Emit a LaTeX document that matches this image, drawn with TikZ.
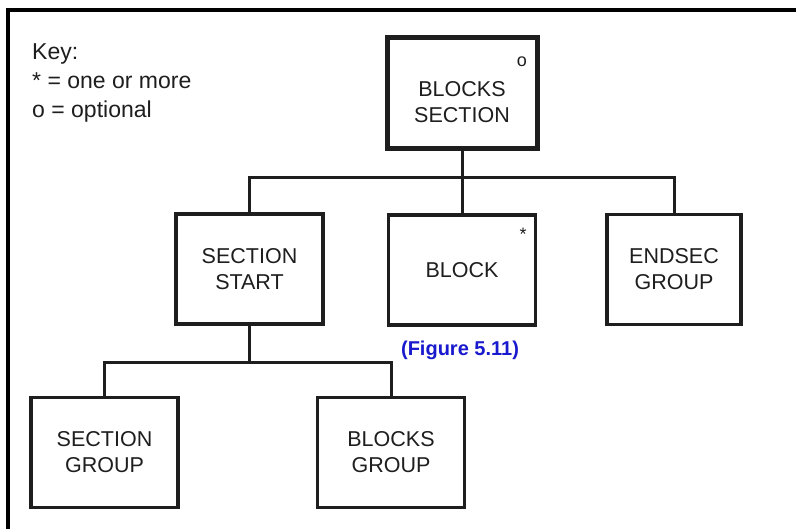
\documentclass[tikz,border=0pt]{standalone}
\usepackage{fontspec}
\setmainfont{Liberation Sans}
\definecolor{ink}{RGB}{30,30,30}
\definecolor{figblue}{RGB}{25,25,205}
\begin{document}
\begin{tikzpicture}[x=1pt,y=-1pt,
  box/.style={draw=ink, line width=3.2pt, minimum width=147pt, minimum height=110pt,
    align=center, inner sep=0pt, text=ink, font=\fontsize{21.5}{26}\selectfont},
  wire/.style={draw=ink, line width=3pt},
  mark label/.style={inner sep=0pt, text=ink, font=\fontsize{18}{18}\selectfont},
]
\useasboundingbox (0,0) rectangle (796,528);
\clip (0,0) rectangle (796,528);
\fill[white] (0,0) rectangle (796,528);
\draw[line width=3.2pt] (8,540) -- (8,10) -- (810,10);

\node[anchor=north west, align=left, inner sep=0pt, text=ink,
  font=\fontsize{23}{29}\selectfont] (key) at (32,43) {Key:\\* = one or more\\o = optional};

\node[box, line width=5pt, minimum width=150pt, minimum height=111pt] (bs) at (462,92.5) {};
\node[inner sep=0pt, align=center, text=ink, font=\fontsize{21.5}{26}\selectfont] (bst) at (462,102) {BLOCKS\\SECTION};
\node[mark label] (bso) at (522,62) {o};

\node[box] (ss) at (249.5,269) {SECTION\\START};
\node[box] (blk) at (462,270) {BLOCK};
\node[mark label] (blks) at (523,234) {*};
\node[box, minimum width=134pt] (eg) at (674,269.5) {ENDSEC\\GROUP};
\node[inner sep=0pt, text=figblue, font=\bfseries\fontsize{20}{20}\selectfont] (fig) at (460,350) {(Figure 5.11)};

\node[box] (sg) at (104.5,452.5) {SECTION\\GROUP};
\node[box] (bg) at (391,452.5) {BLOCKS\\GROUP};

\coordinate (j1) at (462,177);
\draw[wire] (bs.south) -- (blk.north);
\draw[wire] (ss.north) -- (ss.north |- j1) -- (eg.north |- j1) -- (eg.north);

\coordinate (j2) at (249.5,362);
\draw[wire] (ss.south) -- (j2);
\draw[wire] (sg.north) -- (sg.north |- j2) -- (bg.north |- j2) -- (bg.north);
\end{tikzpicture}
\end{document}
